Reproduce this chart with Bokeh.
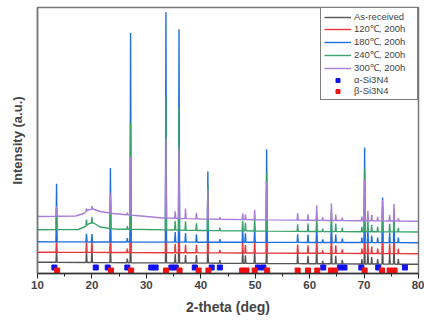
from bokeh.plotting import figure
from bokeh.models import Range1d, FixedTicker, Legend, LegendItem
from bokeh.embed import file_html
from bokeh.resources import INLINE
import numpy as np

# ---- data (y in display units above the x axis) ----
peak_pos = [13.5, 19.0, 20.0, 23.4, 26.5, 27.1, 33.6, 35.3, 36.0, 37.2, 39.2, 41.3, 43.5,
            47.7, 48.2, 49.9, 52.1, 57.8, 59.7, 61.3, 62.4, 64.0, 64.8, 66.0, 69.6, 70.1,
            70.7, 71.4, 72.5, 73.4, 74.7, 75.5, 76.3]
h_asrec = [14, 12, 14, 18, 4, 30, 45, 9, 40, 8, 8, 20, 3,
           12, 8, 13, 22, 11, 8, 17, 3, 18, 8, 4, 5, 22,
           12, 7, 5, 20, 10, 20, 5]
h_120 = [16, 12, 12, 20, 4, 40, 60, 9, 50, 8, 8, 22, 3,
         12, 8, 13, 25, 9, 8, 18, 3, 19, 8, 4, 5, 26,
         12, 7, 5, 22, 10, 22, 5]
h_180 = [58, 8, 8, 74, 4, 209, 230, 10, 213, 9, 8, 71, 3,
         14, 9, 15, 93, 8, 8, 18, 3, 19, 8, 4, 5, 95,
         12, 7, 5, 45, 10, 30, 5]
h_240 = [22, 6, 6, 30, 3, 107, 133, 9, 122, 9, 7, 45, 3,
         10, 8, 13, 58, 7, 8, 17, 3, 19, 8, 4, 5, 63,
         11, 7, 5, 25, 8, 22, 4]
h_300 = [10, 3, 3, 20, 2, 58, 80, 7, 71, 10, 6, 30, 2,
         6, 5, 10, 38, 7, 6, 15, 3, 17, 6, 3, 4, 41,
         10, 6, 4, 21, 6, 17, 3]

# background (baseline) anchor points of each pattern
bg_x_asrec = [10, 80]
bg_y_asrec = [11.3, 9.2]
bg_x_120 = [10, 80]
bg_y_120 = [21.3, 19.8]
bg_x_180 = [10, 80]
bg_y_180 = [31.7, 30.8]
bg_x_240 = [10, 17.5, 18.8, 19.5, 20.3, 21.5, 24, 40, 60, 80]
bg_y_240 = [43.7, 44, 47, 50, 50.5, 46.5, 44.5, 43, 42, 41.5]
bg_x_300 = [10, 17, 18.5, 19.3, 20.2, 21.5, 24, 28, 33, 40, 50, 65, 80]
bg_y_300 = [57, 57.5, 60, 63.5, 64.5, 62, 60, 58, 55.5, 54.5, 53.7, 53, 52.3]

alpha_pos = [13.1, 20.7, 22.9, 26.5, 30.9, 31.7, 34.6, 35.4, 38.9, 42.0, 43.5,
             50.5, 51.5, 62.5, 65.6, 66.4, 69.5, 72.6, 77.5]
beta_pos = [13.6, 23.5, 27.2, 33.6, 36.1, 39.6, 41.4, 47.6, 48.4, 49.9, 52.2,
            57.8, 59.7, 61.4, 63.9, 64.7, 70.1, 73.3, 74.7, 75.6]
alpha_level = 6
beta_level = 3

series_names = ["As-received", "120\u2103, 200h", "180\u2103, 200h", "240\u2103, 200h", "300\u2103, 200h"]
series_colors = ["#555555", "#e8383d", "#1f6fde", "#3aa36b", "#a87dd5"]

HALF_W = 0.1  # half-width of a drawn peak (style)


def pattern(bx, by, heights):
    xs = list(bx)
    for p in peak_pos:
        xs += [p - HALF_W, p, p + HALF_W]
    xs = np.array(sorted(set(xs)))
    ys = np.interp(xs, bx, by)
    for p, h in zip(peak_pos, heights):
        ys[np.isclose(xs, p)] += h
    return xs, ys


p = figure(width=424, height=320, output_backend="svg", toolbar_location=None,
           x_range=Range1d(10, 80), y_range=Range1d(0, 266), title=None,
           min_border_left=37, min_border_right=6, min_border_top=7, min_border_bottom=47)
p.xgrid.visible = False
p.ygrid.visible = False
p.outline_line_color = "#777777"
p.outline_line_width = 1.5

renderers = []
for (bx, by, hs), col in zip([(bg_x_asrec, bg_y_asrec, h_asrec), (bg_x_120, bg_y_120, h_120),
                              (bg_x_180, bg_y_180, h_180), (bg_x_240, bg_y_240, h_240),
                              (bg_x_300, bg_y_300, h_300)], series_colors):
    xs, ys = pattern(bx, by, hs)
    renderers.append(p.line(xs, ys, line_color=col, line_width=1.4))

ra = p.scatter(alpha_pos, [alpha_level] * len(alpha_pos), marker="square", size=5,
               fill_color="#1010f0", line_color="#1010f0")
rb = p.scatter(beta_pos, [beta_level] * len(beta_pos), marker="square", size=5,
               fill_color="#f01010", line_color="#f01010")

# axes
xa = p.xaxis[0]
xa.ticker = FixedTicker(ticks=[10, 20, 30, 40, 50, 60, 70, 80],
                        minor_ticks=[15, 25, 35, 45, 55, 65, 75])
xa.axis_label = "2-theta (deg)"
xa.axis_label_text_font = "Liberation Sans"
xa.axis_label_text_font_style = "bold"
xa.axis_label_text_font_size = "14px"
xa.axis_label_standoff = 7
xa.major_label_text_font = "Liberation Sans"
xa.major_label_text_font_style = "bold"
xa.major_label_text_font_size = "11.5px"
xa.major_label_standoff = 2
xa.major_tick_out = 5
xa.major_tick_in = 0
xa.minor_tick_out = 3
xa.minor_tick_in = 0
xa.axis_line_color = "#333333"
xa.axis_line_width = 1.5
xa.major_tick_line_color = "#222222"
xa.minor_tick_line_color = "#222222"

ya = p.yaxis[0]
ya.ticker = FixedTicker(ticks=[])
ya.axis_label = "Intensity (a.u.)"
ya.axis_label_text_font = "Liberation Sans"
ya.axis_label_text_font_style = "bold"
ya.axis_label_text_font_size = "13px"
ya.axis_label_standoff = 13
ya.major_tick_out = 0
ya.minor_tick_out = 0
ya.axis_line_color = "#777777"
ya.axis_line_width = 1.5

items = [LegendItem(label=n, renderers=[r]) for n, r in zip(series_names, renderers)]
items += [LegendItem(label="\u03b1-Si3N4", renderers=[ra]),
          LegendItem(label="\u03b2-Si3N4", renderers=[rb])]
legend = Legend(items=items, location="top_right", margin=0, padding=3, spacing=-2,
                glyph_width=27, glyph_height=10, label_height=10, label_standoff=3,
                label_width=60, label_text_font="Liberation Sans", label_text_font_size="9.5px",
                border_line_color="black", border_line_width=1, background_fill_alpha=1)
p.add_layout(legend)

open("out.html", "w").write(file_html(p, INLINE))
